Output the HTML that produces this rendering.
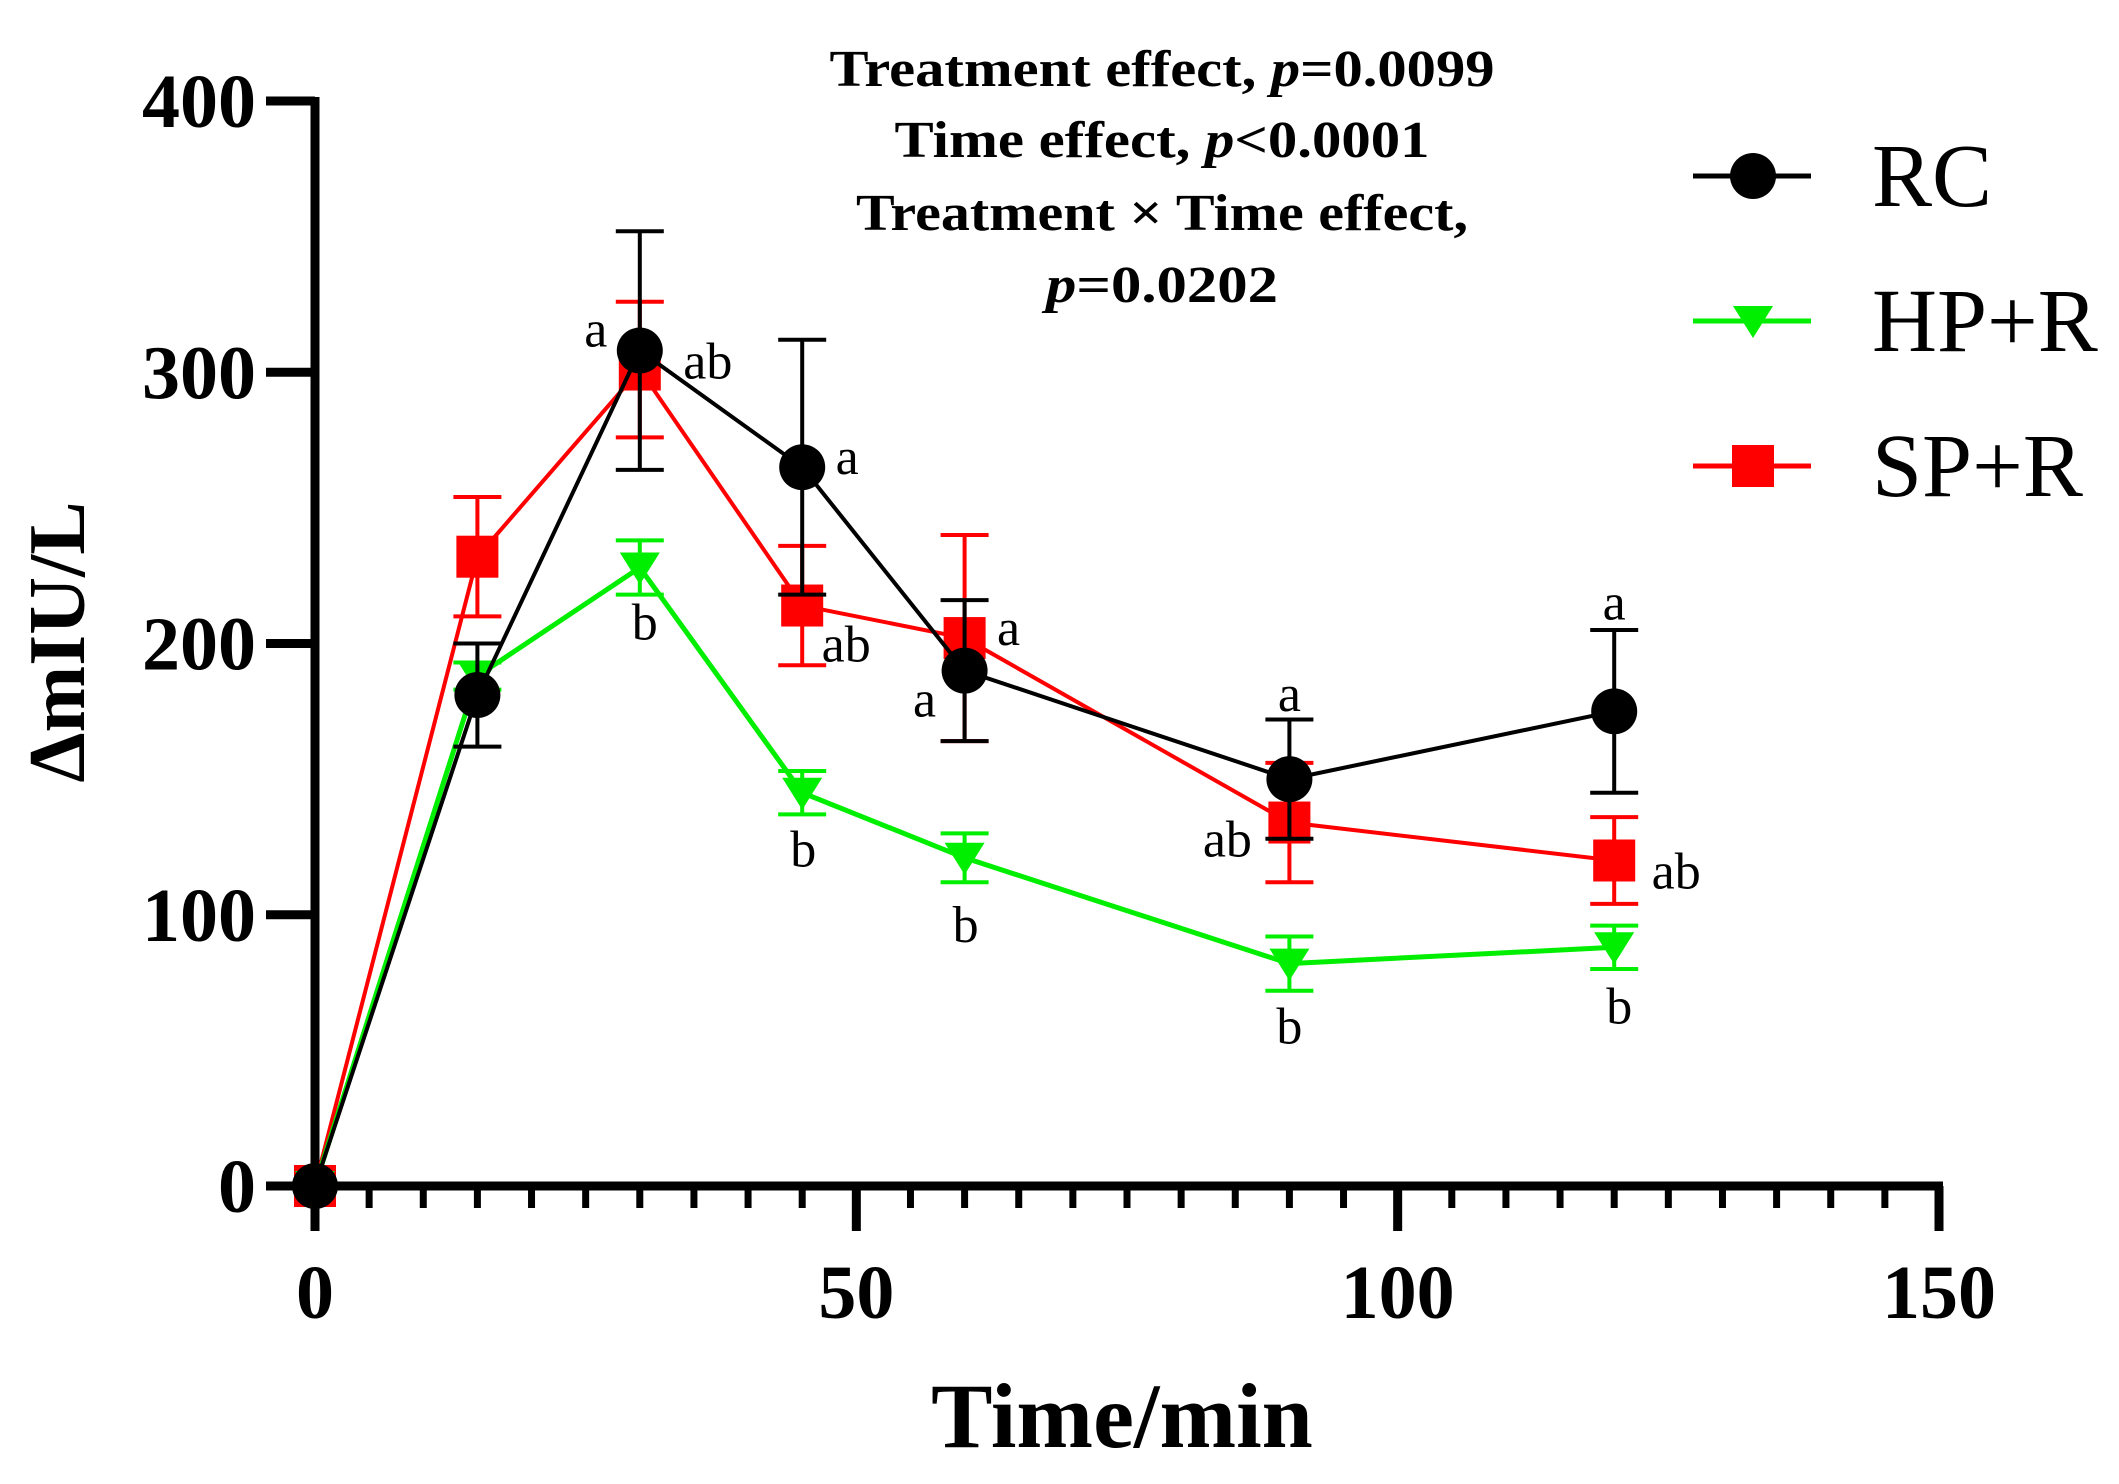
<!DOCTYPE html>
<html><head><meta charset="utf-8"><style>
html,body{margin:0;padding:0;background:#fff;}
svg{display:block;}
text{font-family:"Liberation Serif",serif;}
</style></head><body>
<svg id="chart" width="2119" height="1484" viewBox="0 0 2119 1484" xmlns="http://www.w3.org/2000/svg">
<g id="plot"></g>
<g font-weight="bold" font-size="52" text-anchor="middle" textLength="0">
<text x="1162" y="86" textLength="665" lengthAdjust="spacingAndGlyphs">Treatment effect, <tspan font-style="italic">p</tspan>=0.0099</text>
<text x="1162" y="157" textLength="535" lengthAdjust="spacingAndGlyphs">Time effect, <tspan font-style="italic">p</tspan>&lt;0.0001</text>
<text x="1162" y="230" textLength="612" lengthAdjust="spacingAndGlyphs">Treatment × Time effect,</text>
<text x="1162" y="302" textLength="232" lengthAdjust="spacingAndGlyphs"><tspan font-style="italic">p</tspan>=0.0202</text>
</g>
<text x="1122" y="1447" text-anchor="middle" font-size="92" font-weight="bold">Time/min</text>
<text transform="translate(84,642) rotate(-90)" text-anchor="middle" font-size="80" font-weight="bold">ΔmIU/L</text>
</svg>
<script>
const times = [0, 15, 30, 45, 60, 90, 120];
const rcValues = [0, 181, 308, 265, 190, 150, 175];
const rcErrors = [0, 19, 44, 47, 26, 22, 30];
const hpValues = [0, 188, 228, 145, 121, 82, 88];
const hpErrors = [0, 5, 10, 8, 9, 10, 8];
const spValues = [0, 232, 301, 214, 202, 134, 120];
const spErrors = [0, 22, 25, 22, 38, 22, 16];
const yTicks = [0, 100, 200, 300, 400];
const xTicks = [0, 50, 100, 150];
const seriesNames = ["RC", "HP+R", "SP+R"];

const NS = "http://www.w3.org/2000/svg";
const plot = document.getElementById('plot');
const X0 = 315, XPX = (1939 - 315) / 150;
const Y0 = 1186, YPX = (1186 - 101) / 400;
function xs(v){ return X0 + v * XPX; }
function ys(v){ return Y0 - v * YPX; }
function mk(tag, attrs, parent){
  const e = document.createElementNS(NS, tag);
  for (const k in attrs) e.setAttribute(k, attrs[k]);
  (parent || plot).appendChild(e);
  return e;
}

let ax = mk('g', {});


let yl = mk('line', {x1: X0, y1: ys(400) - 4, x2: X0, y2: Y0 + 45, stroke: '#000', 'stroke-width': 9}, ax);


let xl = mk('line', {x1: X0 - 4, y1: Y0, x2: xs(150) + 4, y2: Y0, stroke: '#000', 'stroke-width': 9}, ax);


yTicks.forEach(t => {
  const l = mk('line', {x1: 266, y1: ys(t), x2: X0, y2: ys(t), stroke: '#000', 'stroke-width': 9}, ax);
  
  
  const tx = mk('text', {x: 256, y: ys(t) + 26, 'text-anchor': 'end', 'font-size': 76, 'font-weight': 'bold'}, ax);
  tx.textContent = t;
  
  
});
for (let m = 5; m < 150; m += 5) {
  if (m % 50 === 0) continue;
  const l = mk('line', {x1: xs(m), y1: Y0, x2: xs(m), y2: Y0 + 22, stroke: '#000', 'stroke-width': 7}, ax);
  
  
}
xTicks.forEach(t => {
  const l = mk('line', {x1: xs(t), y1: Y0, x2: xs(t), y2: Y0 + 45, stroke: '#000', 'stroke-width': 9}, ax);
  
  
  const tx = mk('text', {x: xs(t), y: 1318, 'text-anchor': 'middle', 'font-size': 76, 'font-weight': 'bold'}, ax);
  tx.textContent = t;
  
  
});

function marker(g, type, cx, cy, color){
  let e;
  if (type === 'circle') e = mk('circle', {cx: cx, cy: cy, r: 23, fill: color}, g);
  else if (type === 'square') e = mk('rect', {x: cx - 21, y: cy - 21, width: 42, height: 42, fill: color}, g);
  else e = mk('polygon', {points: `${cx-20},${cy-15} ${cx+20},${cy-15} ${cx},${cy+17}`, fill: color}, g);
  return e;
}
function drawSeries(name, vals, errs, color, type, lw){
  const g = mk('g', {});
  
  
  mk('polyline', {points: times.map((t, i) => xs(t) + ',' + ys(vals[i])).join(' '), fill: 'none', stroke: color, 'stroke-width': lw}, g);
  times.forEach((t, i) => {
    if (errs[i] > 0) {
      const x = xs(t), y1 = ys(vals[i] - errs[i]), y2 = ys(vals[i] + errs[i]);
      const eb = mk('path', {d: `M${x},${y1}V${y2}M${x-24},${y1}H${x+24}M${x-24},${y2}H${x+24}`, stroke: color, 'stroke-width': 4, fill: 'none'}, g);
      
      
    }
    const m = marker(g, type, xs(t), ys(vals[i]), color);
    
    
  });
}
drawSeries('SP+R', spValues, spErrors, '#ff0000', 'square', 4);
drawSeries('HP+R', hpValues, hpErrors, '#00ee00', 'tri', 5);
drawSeries('RC', rcValues, rcErrors, '#000000', 'circle', 4);

const letterNotes = [
  [30, rcValues[2], -44, -20, 'a'], [30, rcValues[2], 68, 12, 'ab'], [30, hpValues[2], 5, 56, 'b'],
  [45, rcValues[3], 45, -9, 'a'], [45, spValues[3], 44, 40, 'ab'], [45, hpValues[3], 1, 58, 'b'],
  [60, spValues[4], 44, -9, 'a'], [60, rcValues[4], -40, 30, 'a'], [60, hpValues[4], 1, 68, 'b'],
  [90, rcValues[5], 0, -84, 'a'], [90, spValues[5], -62, 18, 'ab'], [90, hpValues[5], 0, 64, 'b'],
  [120, rcValues[6], 0, -108, 'a'], [120, spValues[6], 62, 12, 'ab'], [120, hpValues[6], 5, 60, 'b']
];
letterNotes.forEach(n => {
  const tx = mk('text', {x: xs(n[0]) + n[2], y: ys(n[1]) + n[3] + 16, 'text-anchor': 'middle', 'font-size': 52});
  tx.textContent = n[4];
  
  
});

const lg = mk('g', {});


const legColors = ['#000000', '#00ee00', '#ff0000'];
const legTypes = ['circle', 'tri', 'square'];
seriesNames.forEach((s, i) => {
  const y = 176 + i * 145;
  const e = mk('g', {}, lg);
  
  
  mk('line', {x1: 1693, y1: y, x2: 1811, y2: y, stroke: legColors[i], 'stroke-width': 5}, e);
  marker(e, legTypes[i], 1753, y, legColors[i]);
  const tx = mk('text', {x: 1872, y: y + 30, 'font-size': 90}, e);
  tx.textContent = s;
});
</script>
</body></html>
